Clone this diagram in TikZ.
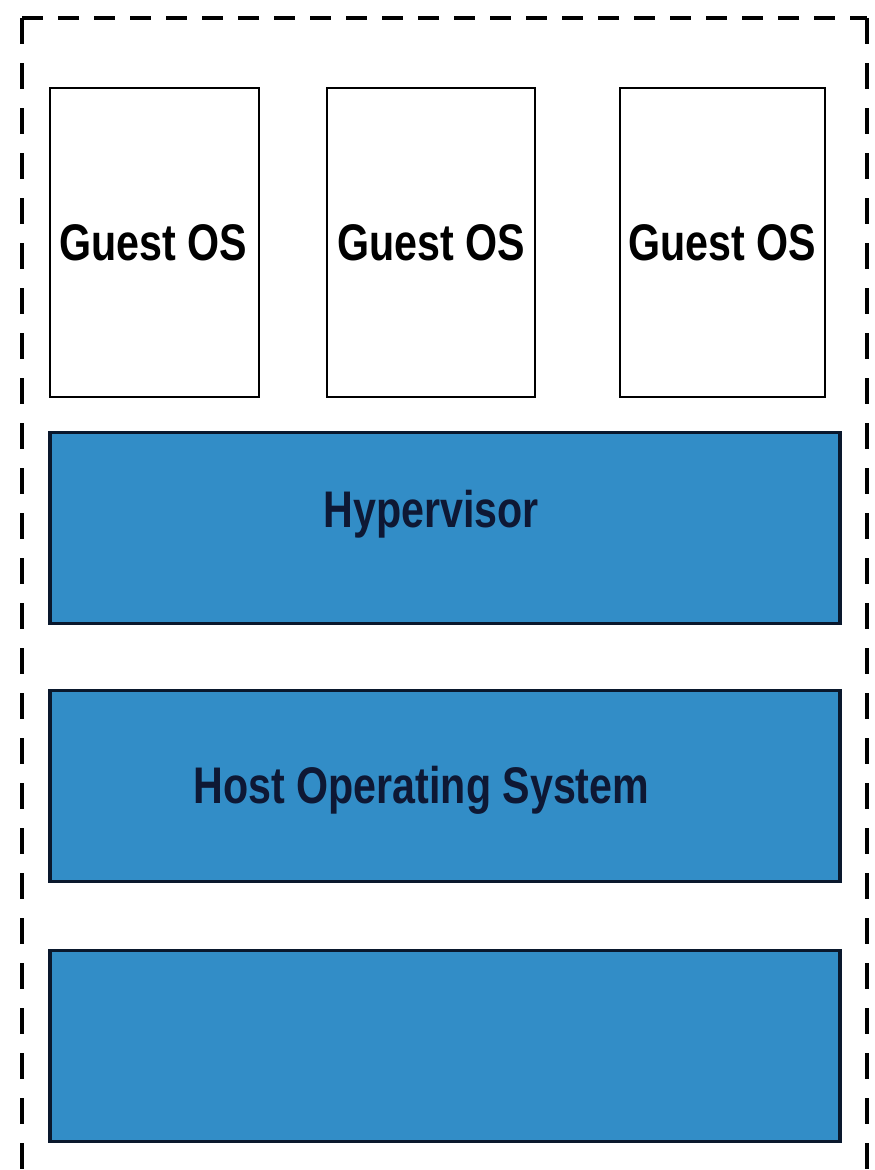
\documentclass[tikz,border=0pt]{standalone}
\usepackage{fontspec}
\newfontfamily\labfont{Liberation Sans}[FakeStretch=0.80]
\definecolor{layerblue}{RGB}{50,141,199}
\definecolor{layeredge}{RGB}{10,24,45}
\definecolor{labnavy}{RGB}{14,24,52}
\begin{document}
\begin{tikzpicture}[x=1pt,y=-1pt,
  guestbox/.style={draw=black,line width=2.8pt,fill=white,inner sep=0pt},
  layerbox/.style={draw=layeredge,line width=3.5pt,fill=layerblue,inner sep=0pt},
  lab/.style={font=\labfont\bfseries\fontsize{51.5}{55}\selectfont,anchor=base,inner sep=0pt},
  dashh/.style={line width=4.8pt,dash pattern=on 21pt off 15pt},
  dashv/.style={line width=4.8pt,dash pattern=on 26pt off 19pt}]
\useasboundingbox (0,0) rectangle (875,1170);
\fill[white] (0,0) rectangle (875,1170);
% outer dashed frame (bottom edge lies below the picture)
\coordinate (tl) at (22,18);
\coordinate (tr) at (867,18);
\coordinate (bl) at (22,1175);
\coordinate (br) at (867,1175);
\draw[dashh] (tl) -- (tr);
\draw[dashv] (tl) -- (bl);
\draw[dashv] (tr) -- (br);
% guest OS boxes
\node[guestbox,minimum width=209pt,minimum height=309pt] (g1) at (154.5,242.5) {};
\node[guestbox,minimum width=208pt,minimum height=309pt] (g2) at (431,242.5) {};
\node[guestbox,minimum width=205pt,minimum height=309pt] (g3) at (722.5,242.5) {};
\node[lab,text=black] (g1t) at (153.5,260) {Guest OS};
\node[lab,text=black] (g2t) at (431,260) {Guest OS};
\node[lab,text=black] (g3t) at (722.5,260) {Guest OS};
% layers
\node[layerbox,minimum width=790pt,minimum height=191pt] (hyp) at (445,528) {};
\node[layerbox,minimum width=790pt,minimum height=191pt] (host) at (445,786) {};
\node[layerbox,minimum width=790pt,minimum height=191pt] (hw) at (445,1046) {};
\node[lab,text=labnavy] (hypt) at (431,527) {Hypervisor};
\node[lab,text=labnavy] (hostt) at (421.5,803) {Host Operating System};
\end{tikzpicture}
\end{document}
